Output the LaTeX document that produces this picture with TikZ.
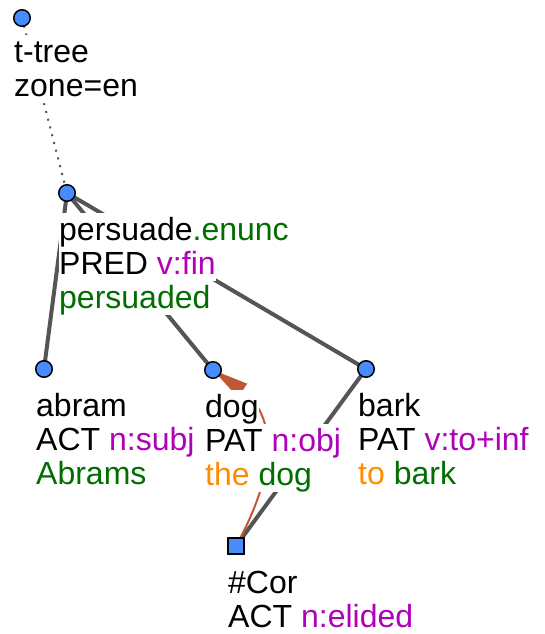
\documentclass[tikz,border=0pt]{standalone}
\usepackage{fontspec}
\setmainfont{Liberation Sans}
\usetikzlibrary{arrows.meta}
\definecolor{nodeblue}{RGB}{70,140,255}
\definecolor{edgegray}{RGB}{85,85,85}
\definecolor{tgreen}{RGB}{0,110,0}
\definecolor{tpurple}{RGB}{176,0,186}
\definecolor{torange}{RGB}{255,140,0}
\definecolor{corefc}{RGB}{192,88,54}
\pgfdeclarelayer{edges}
\pgfsetlayers{edges,main}
\newcommand{\gr}[1]{\textcolor{tgreen}{#1}}
\newcommand{\pu}[1]{\textcolor{tpurple}{#1}}
\newcommand{\orr}[1]{\textcolor{torange}{#1}}
\tikzset{
  lbl/.style={anchor=north west, fill=white, inner xsep=0.5pt, inner ysep=0pt,
    text height=27.6pt, text depth=6.4pt, font=\fontsize{32}{34}\selectfont},
  tnode/.style={circle, draw=black, line width=1.5pt, fill=nodeblue, minimum size=16.5pt, inner sep=0pt},
  snode/.style={rectangle, draw=black, line width=1.5pt, fill=nodeblue, minimum size=16pt, inner sep=0pt},
  edge/.style={line width=4pt, draw=edgegray},
  rootedge/.style={line width=2pt, draw=edgegray, dash pattern=on 2pt off 6pt},
  coref/.style={line width=2pt, draw=corefc, -{Triangle[length=36pt,width=16pt]}},
}
\begin{document}
\begin{tikzpicture}[x=1pt,y=-1pt]
\useasboundingbox (0,0) rectangle (545,634);
% nodes
\node[tnode] (r) at (22,18) {};
\node[tnode] (p) at (67,193) {};
\node[tnode] (a) at (44,369) {};
\node[tnode] (d) at (213,370) {};
\node[tnode] (b) at (366,369) {};
\node[snode] (c) at (236,546) {};
% labels
\node[lbl] (r1) at (13.5,35) {t-tree};
\node[lbl] (r2) at (13.5,69) {zone=en};
\node[lbl] (p1) at (58.5,213) {persuade\gr{.enunc}};
\node[lbl] (p2) at (58.5,247) {PRED \pu{v:fin}};
\node[lbl] (p3) at (58.5,281) {\gr{persuaded}};
\node[lbl] (a1) at (35.5,389) {abram};
\node[lbl] (a2) at (35.5,423) {ACT \pu{n:subj}};
\node[lbl] (a3) at (35.5,457) {\gr{Abrams}};
\node[lbl] (d1) at (204.5,390) {dog};
\node[lbl] (d2) at (204.5,424) {PAT \pu{n:obj}};
\node[lbl] (d3) at (204.5,458) {\orr{the} \gr{dog}};
\node[lbl] (b1) at (357.5,389) {bark};
\node[lbl] (b2) at (357.5,423) {PAT \pu{v:to+inf}};
\node[lbl] (b3) at (357.5,457) {\orr{to} \gr{bark}};
\node[lbl] (c1) at (227.5,566) {\#Cor};
\node[lbl] (c2) at (227.5,600) {ACT \pu{n:elided}};
% edges
\begin{pgfonlayer}{edges}
\draw[rootedge] (r.center) -- (p.center);
\draw[edge] (p.center) -- (a.center);
\draw[edge] (p.center) -- (d.center);
\draw[edge] (p.center) -- (b.center);
\draw[edge] (b.center) -- (c.center);
\draw[coref] (c.center) .. controls (291,446) and (262,404) .. (d.center);
\end{pgfonlayer}
\end{tikzpicture}
\end{document}
